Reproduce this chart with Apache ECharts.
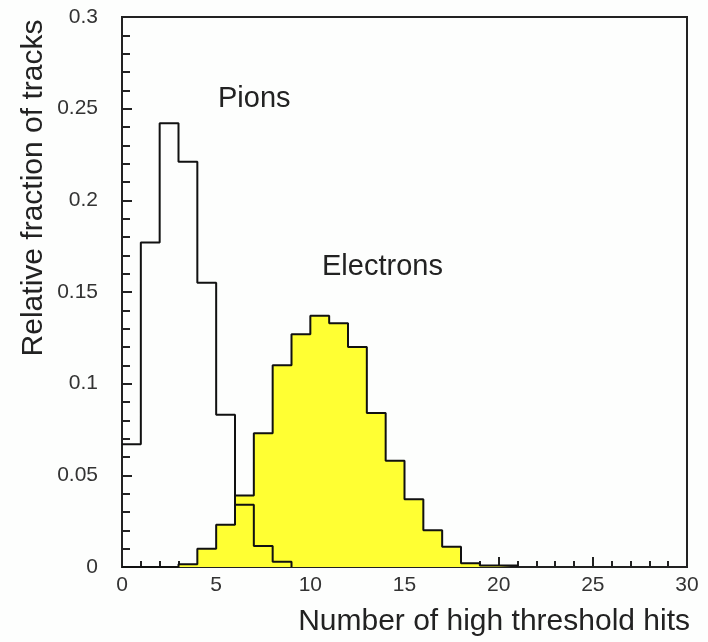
<!DOCTYPE html>
<html>
<head>
<meta charset="utf-8">
<style>
  html, body { margin: 0; padding: 0; background: #fdfefd; }
  #chart { width: 708px; height: 642px; }
</style>
<script src="https://cdn.jsdelivr.net/npm/echarts@6/dist/echarts.min.js"></script>
</head>
<body>
<div id="chart"></div>
<script>
// Histogram bins: bin i covers [i, i+1) high-threshold hits
var pionFraction = [0.067, 0.177, 0.242, 0.221, 0.155, 0.083, 0.034, 0.0115, 0.0028];
var electronFraction = [0, 0, 0, 0.0015, 0.010, 0.023, 0.039, 0.073, 0.110, 0.127,
                        0.137, 0.133, 0.120, 0.084, 0.058, 0.037, 0.020, 0.011, 0.002, 0.0008, 0.0008];
var xTicks = [0, 5, 10, 15, 20, 25, 30];
var yTicks = [0, 0.05, 0.1, 0.15, 0.2, 0.25, 0.3];

// Convert bin contents to step-line vertices (left edge of each bin, then a drop to zero)
function stepPoints(values) {
  var pts = values.map(function (v, i) { return [i, v]; });
  pts.push([values.length, 0]);
  return pts;
}

var FONT = '"Liberation Sans", Arial, Helvetica, sans-serif';
var chart = echarts.init(document.getElementById('chart'), null, { renderer: 'canvas' });

chart.setOption({
  backgroundColor: '#fdfefd',
  animation: false,
  grid: {
    left: 122, right: 21, top: 17, bottom: 75,
    show: true, borderColor: '#222', borderWidth: 2, backgroundColor: 'transparent'
  },
  xAxis: {
    type: 'value', min: xTicks[0], max: xTicks[xTicks.length - 1], interval: 5,
    axisLine: { show: true, lineStyle: { color: '#222', width: 2 } },
    axisTick: { show: true, inside: true, length: 10, lineStyle: { color: '#222', width: 2 } },
    minorTick: { show: true, splitNumber: 5, length: 6, lineStyle: { color: '#222', width: 2 } },
    splitLine: { show: false },
    axisLabel: { color: '#333', fontFamily: FONT, fontSize: 21, margin: 8 }
  },
  yAxis: {
    type: 'value', min: yTicks[0], max: yTicks[yTicks.length - 1], interval: 0.05,
    axisLine: { show: true, lineStyle: { color: '#222', width: 2 } },
    axisTick: { show: true, inside: true, length: 10, lineStyle: { color: '#222', width: 2 } },
    minorTick: { show: true, splitNumber: 5, length: 8, lineStyle: { color: '#222', width: 2 } },
    splitLine: { show: false },
    axisLabel: { color: '#333', fontFamily: FONT, fontSize: 21, margin: 24 }
  },
  series: [
    {
      name: 'Electrons', type: 'line', step: 'end', symbol: 'none',
      data: stepPoints(electronFraction),
      lineStyle: { color: '#111', width: 2 },
      areaStyle: { color: '#ffff33', opacity: 1 },
      z: 2
    },
    {
      name: 'Pions', type: 'line', step: 'end', symbol: 'none',
      data: stepPoints(pionFraction),
      lineStyle: { color: '#111', width: 2 },
      z: 3
    }
  ],
  graphic: [
    { type: 'text', left: 218, top: 84, style: { text: 'Pions', font: '29px ' + FONT, fill: '#222' } },
    { type: 'text', left: 322, top: 252, style: { text: 'Electrons', font: '29px ' + FONT, fill: '#222' } },
    { type: 'text', right: 18, top: 607, style: { text: 'Number of high threshold hits', font: '30px ' + FONT, fill: '#222' } },
    { type: 'text', x: 34, y: 188, rotation: Math.PI / 2,
      style: { text: 'Relative fraction of tracks', font: '30px ' + FONT, fill: '#222', align: 'center', verticalAlign: 'middle' } }
  ]
});
</script>
</body>
</html>
